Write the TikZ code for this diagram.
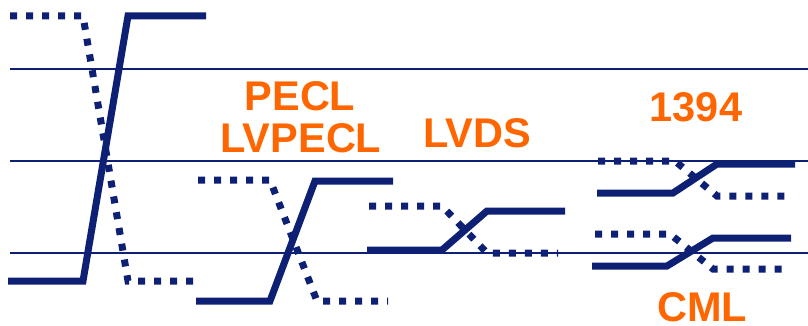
\documentclass[tikz,border=0pt]{standalone}
\usepackage{fontspec}
\setmainfont{Liberation Sans}
\usepackage{tikz}

\definecolor{navy}{RGB}{14,32,116}
\definecolor{lblorange}{RGB}{255,102,0}

\begin{document}
\begin{tikzpicture}[x=1pt,y=-1pt,
		level line/.style={draw=navy,line width=2pt},
		sig line/.style={draw=navy,line width=7pt},
		inv line/.style={draw=navy,line width=7pt,dash pattern=on 7pt off 9pt},
		std label/.style={text=lblorange,font=\bfseries\fontsize{41.5}{41.5}\selectfont,anchor=base,inner sep=0pt}]
		
		\useasboundingbox (0,0) rectangle (808,326);
		
		% reference levels
		\foreach \y in {69,161,253}
		\draw[level line] (10,\y) -- (808,\y);
		
		% big swing
		\draw[inv line] (10,16) -- (83,16) -- (128,281) -- (200,281);
		\draw[sig line] (8,281) -- (83,281) -- (128,16) -- (206,16);
		
		% PECL / LVPECL
		\draw[inv line] (198,180) -- (270,180) -- (317,301) -- (388,301);
		\draw[sig line] (196,301) -- (270,301) -- (315,181) -- (393,181);
		
		% LVDS
		\draw[inv line] (369,206) -- (442,206) -- (487,253) -- (558,253);
		\draw[sig line] (367,250) -- (442,250) -- (487,211) -- (565,211);
		
		% 1394 and CML
		\draw[inv line] (598,161) -- (675,161) -- (717,196) -- (790,196);
		\draw[sig line] (597,193) -- (673,193) -- (717,164) -- (795,164);
		\draw[inv line] (595,234) -- (670,234) -- (713,269) -- (785,269);
		\draw[sig line] (592,266) -- (667,266) -- (713,238) -- (791,238);
		
		\node[std label] (pecl) at (300,111) {PECL};
		\node[std label] (lvpecl) at (301,152) {LVPECL};
		\node[std label] (lvds) at (477,147) {LVDS};
		\node[std label] (fw) at (696,122) {1394};
		\node[std label] (cml) at (702,321) {CML};
		
	\end{tikzpicture}
\end{document}
